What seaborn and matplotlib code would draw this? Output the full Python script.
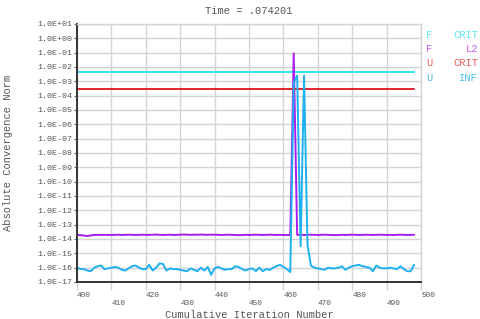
import numpy as np
import pandas as pd
import matplotlib
matplotlib.use("Agg")
import matplotlib.pyplot as plt
import seaborn as sns

# ---- data (log10 of the norms) ----
iterations = list(range(400, 499))

u_inf_log10 = [
    -16.00, -16.10, -16.10, -16.20, -16.25, -16.00, -15.90, -15.85, -16.10, -16.05,  # 400-409
    -16.00, -15.95, -16.00, -16.15, -16.20, -16.05, -15.90, -15.85, -16.00, -16.10,  # 410-419
    -16.10, -15.80, -16.20, -16.00, -15.70, -15.75, -16.20, -16.05, -16.10, -16.10,  # 420-429
    -16.15, -16.20, -16.25, -16.05, -16.15, -16.25, -16.00, -16.20, -15.95, -16.50,  # 430-439
    -16.05, -15.95, -16.05, -16.15, -16.10, -16.10, -15.90, -15.95, -16.10, -16.20,  # 440-449
    -16.10, -16.05, -16.25, -16.00, -16.25, -16.10, -16.15, -16.00, -15.90, -15.80,  # 450-459
    -15.95, -16.10, -16.30, -3.10, -2.60, -14.50, -2.60, -14.40, -15.85, -16.00,     # 460-469
    -16.05, -16.10, -16.15, -16.00, -16.05, -16.05, -16.00, -15.90, -16.15, -16.00,  # 470-479
    -15.90, -15.85, -15.80, -15.90, -15.95, -16.00, -16.25, -15.85, -16.00, -16.05,  # 480-489
    -16.05, -16.00, -16.05, -16.10, -15.90, -16.10, -16.25, -16.25, -15.80,          # 490-498
]

f_l2_log10 = [
    -13.72, -13.73, -13.76, -13.80, -13.75, -13.72, -13.71, -13.72, -13.71, -13.72,
    -13.72, -13.71, -13.70, -13.72, -13.71, -13.70, -13.71, -13.72, -13.71, -13.70,
    -13.71, -13.72, -13.70, -13.69, -13.71, -13.72, -13.71, -13.70, -13.72, -13.71,
    -13.70, -13.69, -13.70, -13.71, -13.70, -13.70, -13.69, -13.70, -13.71, -13.70,
    -13.70, -13.71, -13.72, -13.71, -13.70, -13.71, -13.72, -13.73, -13.72, -13.71,
    -13.72, -13.71, -13.70, -13.71, -13.72, -13.71, -13.70, -13.71, -13.72, -13.71,
    -13.72, -13.72, -13.72, -1.05, -13.71, -13.71, -13.72, -13.71, -13.70, -13.71,
    -13.72, -13.71, -13.70, -13.71, -13.72, -13.73, -13.72, -13.71, -13.72, -13.71,
    -13.70, -13.71, -13.72, -13.71, -13.70, -13.71, -13.72, -13.71, -13.70, -13.71,
    -13.72, -13.71, -13.72, -13.71, -13.70, -13.71, -13.72, -13.71, -13.71,
]

f_crit_log10 = -2.35
u_crit_log10 = -3.56

series_names = ["F CRIT", "F L2", "U CRIT", "U INF"]
series_colors = ["#2fe3f0", "#a61ff0", "#e3222c", "#1fb0f0"]
legend_colors = ["#5de8f2", "#c25cf0", "#ee5a5a", "#45bdf0"]

title_text = "Time = .074201"
x_label = "Cumulative Iteration Number"
y_label = "Absolute Convergence Norm"
x_ticks = list(range(400, 501, 10))
y_exponents = list(range(-17, 2))

# ---- build table ----
n = len(iterations)
df = pd.DataFrame({
    "iteration": iterations * 4,
    "value": np.concatenate([
        10.0 ** np.full(n, f_crit_log10),
        10.0 ** np.array(f_l2_log10),
        10.0 ** np.full(n, u_crit_log10),
        10.0 ** np.array(u_inf_log10),
    ]),
    "series": np.repeat(series_names, n),
})

sns.set_theme(style="white")
mono = ["Liberation Mono", "DejaVu Sans Mono"]
plt.rcParams["font.family"] = mono

fig = plt.figure(figsize=(4.8, 3.19), dpi=100)
ax = fig.add_axes([0.1604, 0.116, 0.7167, 0.8088])

ax.set_yscale("log")
ax.set_xlim(400, 500)
ax.set_ylim(1e-17, 1e1)

# grid
ax.set_yticks([10.0 ** e for e in y_exponents])
ax.set_yticks([], minor=True)
ax.set_xticks(x_ticks)
ax.grid(True, which="major", color="#d4d4d4", linewidth=1.0)
ax.set_axisbelow(True)

sns.lineplot(data=df, x="iteration", y="value", hue="series",
             hue_order=series_names, palette=series_colors,
             linewidth=1.4, legend=False, ax=ax, estimator=None, sort=False)

# tick labels
ax.set_yticklabels([f"1.0E{e:+03d}" for e in y_exponents])
xt_labels = [str(v) if (i % 2 == 0) else "\n" + str(v) for i, v in enumerate(x_ticks)]
ax.set_xticklabels(xt_labels)
for lab in ax.get_xticklabels():
    lab.set_ha("left")
    lab.set_linespacing(1.25)
ax.tick_params(axis="x", which="major", length=6, width=1.0, color="#d4d4d4",
               labelsize=5.6, labelcolor="#555555", pad=1, direction="out", bottom=True)
ax.tick_params(axis="y", which="major", length=2.5, width=0.8, color="#666666",
               labelsize=6.0, labelcolor="#555555", pad=1, direction="out", left=True)

for side in ["top", "right"]:
    ax.spines[side].set_color("#d4d4d4")
    ax.spines[side].set_linewidth(1.0)
for side in ["left", "bottom"]:
    ax.spines[side].set_color("#333333")
    ax.spines[side].set_linewidth(1.4)

ax.set_xlabel(x_label, fontsize=7.5, color="#555555", labelpad=2)
ax.set_ylabel(y_label, fontsize=7.5, color="#555555", labelpad=4)
fig.text(0.519, 0.98, title_text, ha="center", va="top", fontsize=7.5, color="#555555")

# colored text legend on the right
legend_rows = [("F", "CRIT"), ("F", "L2"), ("U", "CRIT"), ("U", "INF")]
row_y = [34.5, 49.0, 63.5, 78.0]
for (a, b), yy, c in zip(legend_rows, row_y, legend_colors):
    fig.text(426 / 480, 1 - yy / 319, a, ha="left", va="center", fontsize=7.5, color=c)
    fig.text(478 / 480, 1 - yy / 319, b, ha="right", va="center", fontsize=7.5, color=c)

ax.yaxis.set_label_coords(-0.186, 0.5)
fig.savefig("out.png", dpi=100, facecolor="white")
